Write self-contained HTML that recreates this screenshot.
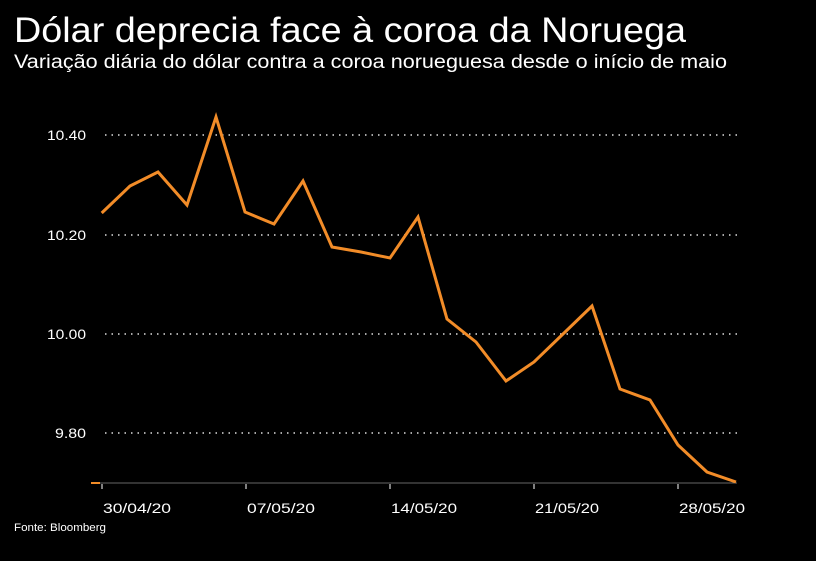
<!DOCTYPE html>
<html><head><meta charset="utf-8"><style>
body{margin:0;background:#000;width:816px;height:561px;overflow:hidden;font-family:"Liberation Sans",sans-serif;color:#fff}
</style></head><body>
<svg width="816" height="561" xmlns="http://www.w3.org/2000/svg" style="position:absolute;left:0;top:0">
<rect width="816" height="561" fill="#000"/>
<text x="14" y="42" font-size="35" fill="#fff" textLength="672" lengthAdjust="spacingAndGlyphs" font-family="Liberation Sans, sans-serif">Dólar deprecia face à coroa da Noruega</text>
<text x="14" y="68" font-size="19" fill="#fff" textLength="713" lengthAdjust="spacingAndGlyphs" font-family="Liberation Sans, sans-serif">Variação diária do dólar contra a coroa norueguesa desde o início de maio</text>
<g stroke="#ddd" stroke-width="1.5" stroke-dasharray="1.5,5">
<line x1="105" y1="135" x2="737" y2="135"/>
<line x1="105" y1="235" x2="737" y2="235"/>
<line x1="105" y1="334" x2="737" y2="334"/>
<line x1="105" y1="433" x2="737" y2="433"/>
</g>
<g font-size="14" fill="#fff" font-family="Liberation Sans, sans-serif" lengthAdjust="spacingAndGlyphs">
<text x="47" y="140" textLength="39" lengthAdjust="spacingAndGlyphs">10.40</text>
<text x="47" y="240" textLength="39" lengthAdjust="spacingAndGlyphs">10.20</text>
<text x="47" y="339" textLength="39" lengthAdjust="spacingAndGlyphs">10.00</text>
<text x="55" y="438" textLength="31" lengthAdjust="spacingAndGlyphs">9.80</text>
</g>
<line x1="100" y1="483" x2="737" y2="483" stroke="#666" stroke-width="1"/>
<line x1="91" y1="483" x2="100" y2="483" stroke="#f28c28" stroke-width="2"/>
<g stroke="#aaa" stroke-width="1.5">
<line x1="102" y1="484" x2="102" y2="489"/><line x1="246" y1="484" x2="246" y2="489"/><line x1="390" y1="484" x2="390" y2="489"/><line x1="534" y1="484" x2="534" y2="489"/><line x1="678" y1="484" x2="678" y2="489"/>
</g>
<g font-size="14" fill="#fff" font-family="Liberation Sans, sans-serif">
<text x="103" y="513" textLength="68" lengthAdjust="spacingAndGlyphs">30/04/20</text>
<text x="247" y="513" textLength="68" lengthAdjust="spacingAndGlyphs">07/05/20</text>
<text x="391" y="513" textLength="66" lengthAdjust="spacingAndGlyphs">14/05/20</text>
<text x="535" y="513" textLength="64" lengthAdjust="spacingAndGlyphs">21/05/20</text>
<text x="679" y="513" textLength="66" lengthAdjust="spacingAndGlyphs">28/05/20</text>
</g>
<text x="14" y="531" font-size="11" fill="#fff" textLength="92" lengthAdjust="spacingAndGlyphs" font-family="Liberation Sans, sans-serif">Fonte: Bloomberg</text>
<polyline fill="none" stroke="#f28c28" stroke-width="3" stroke-linejoin="miter" points="101.7,213 130,186 158,172 187,205 216,117 245,212 274,224 303,181 332,247 361,252 390,258 418,217 447,319 476,342 506,381 534,362 563,334 592,306 620,389 650,400 678,445 707,472 736,482"/>
</svg>
</body></html>
